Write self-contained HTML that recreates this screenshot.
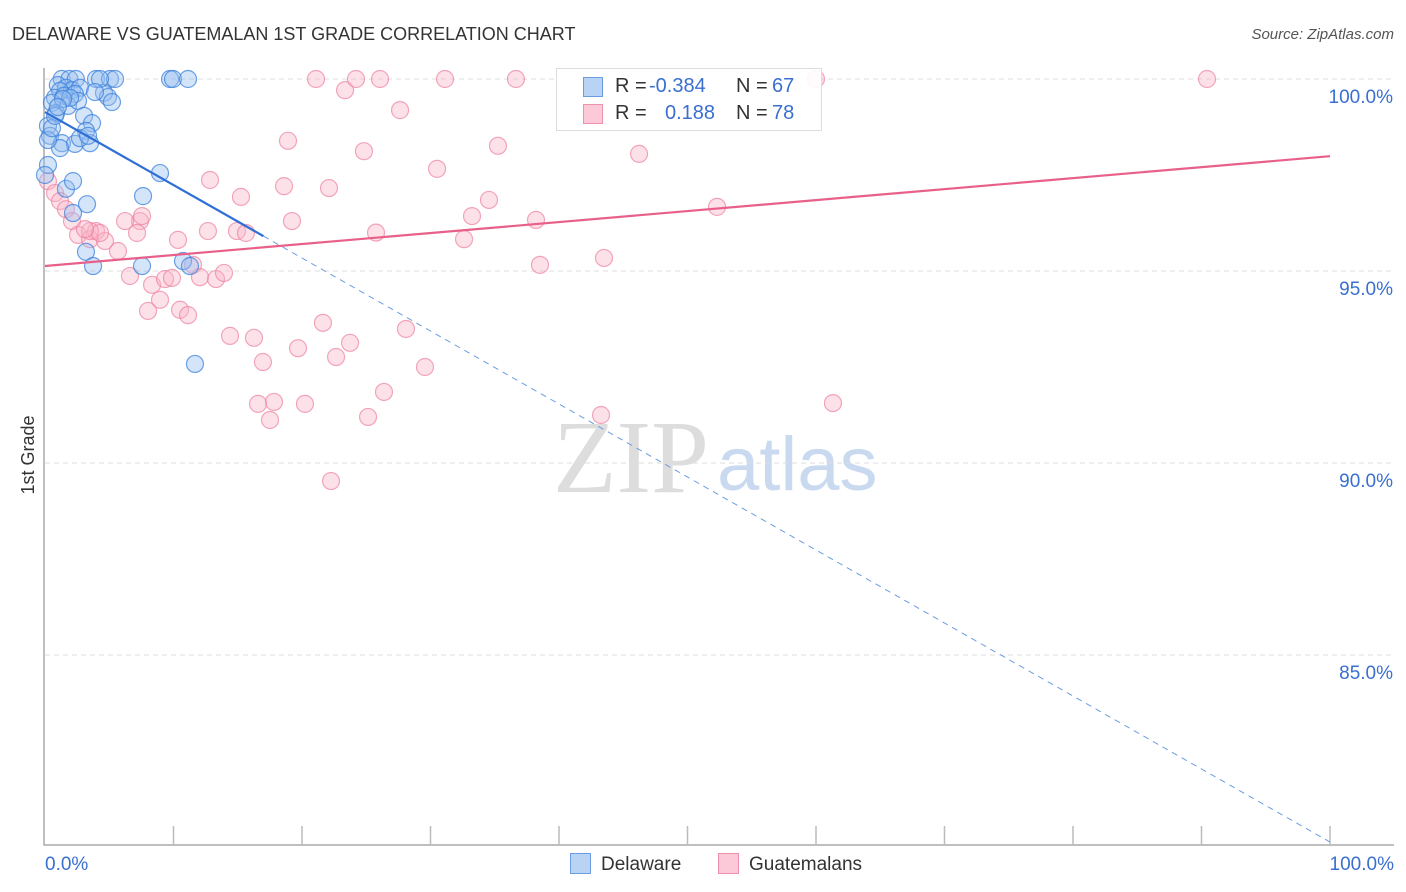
<!DOCTYPE html>
<html><head><meta charset="utf-8">
<style>
body{margin:0;background:#fff;font-family:"Liberation Sans",sans-serif;}
#wrap{position:relative;width:1406px;height:892px;overflow:hidden;}
</style></head>
<body>
<div id="wrap">
<svg id="chart" width="1406" height="892">
  <text x="12" y="40" font-size="18" fill="#333">DELAWARE VS GUATEMALAN 1ST GRADE CORRELATION CHART</text>
  <text x="1394" y="39" font-size="15" fill="#555" font-style="italic" text-anchor="end">Source: ZipAtlas.com</text>
  <text x="34" y="455" font-size="18" fill="#333" transform="rotate(-90 34 455)" text-anchor="middle">1st Grade</text>
  <text x="553" y="492" font-size="104" fill="#ddd" font-family="Liberation Serif,serif">ZIP</text>
  <text x="717" y="490" font-size="76" fill="#c9daf0">atlas</text>
  <g id="grid"></g><g id="axes"></g><g id="pts"></g><g id="trends"></g>
</svg>
<div style="position:absolute;left:556px;top:68px;width:264px;height:61px;border:1px solid #ddd;background:rgba(255,255,255,0.9);font-size:20px;color:#333;">
  <div style="position:absolute;left:26px;top:6px;width:240px;height:24px;">
    <span style="position:absolute;left:0;top:2px;width:20px;height:20px;background:#b9d3f5;border:1px solid #6b9de0;box-sizing:border-box;"></span>
    <span style="position:absolute;left:32px;">R = </span><span style="position:absolute;left:66px;color:#3a6fd0;">-0.384</span>
    <span style="position:absolute;left:153px;">N = </span><span style="position:absolute;left:189px;color:#3a6fd0;">67</span>
  </div>
  <div style="position:absolute;left:26px;top:33px;width:240px;height:24px;">
    <span style="position:absolute;left:0;top:2px;width:20px;height:20px;background:#fbc9d7;border:1px solid #ee8fab;box-sizing:border-box;"></span>
    <span style="position:absolute;left:32px;">R = </span><span style="position:absolute;left:82px;color:#3a6fd0;">0.188</span>
    <span style="position:absolute;left:153px;">N = </span><span style="position:absolute;left:189px;color:#3a6fd0;">78</span>
  </div>
</div>
<div style="position:absolute;left:570px;top:853px;font-size:19px;color:#333;">
  <span style="position:absolute;left:0;top:0;white-space:nowrap;"><span style="display:inline-block;width:21px;height:21px;background:#b9d3f5;border:1px solid #6b9de0;box-sizing:border-box;vertical-align:-4px;margin-right:10px;"></span>Delaware</span>
  <span style="position:absolute;left:148px;top:0;white-space:nowrap;"><span style="display:inline-block;width:21px;height:21px;background:#fbc9d7;border:1px solid #ee8fab;box-sizing:border-box;vertical-align:-4px;margin-right:10px;"></span>Guatemalans</span>
</div>
</div>
<script>
const yTicks=[100,95,90,85];
const yTickLabels=["100.0%","95.0%","90.0%","85.0%"];
const xEndLabels=["0.0%","100.0%"];
const blueX=[1.3,1.9,2.4,3.97,5.06,5.45,9.73,9.96,11.13,1.0,1.63,2.1,2.72,1.17,0.78,1.48,2.33,4.59,4.9,0.54,1.79,2.57,0.86,3.04,3.66,3.19,0.23,0.39,1.32,2.33,3.5,2.72,3.35,1.17,0.23,0.54,8.95,7.63,1.63,2.18,3.27,2.18,3.19,3.74,7.55,10.74,11.28,11.67,0.23,0.0,0.78,1.95,4.28,1.4,1.0,3.89,5.21];
const blueY=[100,100,100,100,100,100,100,100,100,99.84,99.77,99.71,99.77,99.69,99.51,99.56,99.61,99.64,99.53,99.38,99.3,99.43,99.11,99.04,98.85,98.65,98.78,98.52,98.33,98.31,98.33,98.46,98.52,98.2,98.41,98.72,97.55,96.95,97.14,97.34,96.74,96.51,95.5,95.13,95.13,95.26,95.13,92.58,97.76,97.5,99.04,99.51,100,99.48,99.27,99.66,99.4];
const pinkX=[0.23,0.78,1.17,1.63,2.1,2.57,3.5,3.97,4.67,5.68,6.61,7.39,6.23,7.55,7.16,8.02,8.33,8.95,9.34,9.88,10.35,10.51,11.13,11.52,12.06,12.68,13.31,13.93,12.84,14.4,14.94,15.25,15.64,16.26,16.96,16.58,17.51,17.82,18.6,19.22,18.91,19.69,20.23,21.09,21.63,22.26,22.1,22.65,23.35,23.74,24.2,24.82,25.14,25.76,26.07,26.38,27.63,28.09,29.57,30.51,31.13,32.61,33.23,34.55,35.25,36.65,38.21,38.52,43.27,43.5,46.23,52.3,60.0,61.32,90.43,3.5,4.28,3.11];
const pinkY=[97.34,97.03,96.82,96.61,96.3,95.94,95.83,96.04,95.78,95.52,94.87,96.3,96.3,96.43,95.99,93.96,94.64,94.25,94.79,94.82,95.81,93.99,93.85,95.16,94.84,96.04,94.79,94.95,97.37,93.31,96.04,96.93,95.99,93.26,92.63,91.54,91.12,91.59,97.21,96.3,98.39,92.99,91.54,100,93.65,89.53,97.16,92.76,99.71,93.13,100,98.12,91.2,96.0,100,91.85,99.19,93.49,92.5,97.66,100,95.83,96.43,96.85,98.26,100,96.33,95.16,91.25,95.34,98.05,96.67,100,91.56,100,96.04,95.99,96.09];
const blueTrend=[99.14,80.13];
const pinkTrend=[95.13,97.99];
const X0=45,X1=1330,Y100=79,PX=38.4;
const sx=v=>X0+(X1-X0)*v/100;
const sy=v=>Y100+(100-v)*PX;
const NS="http://www.w3.org/2000/svg";
function mk(tag,attrs,parent){const e=document.createElementNS(NS,tag);for(const k in attrs)e.setAttribute(k,attrs[k]);document.getElementById(parent).appendChild(e);return e;}
yTicks.forEach((t,i)=>{
  const l=mk('line',{x1:45,x2:1394,y1:sy(t),y2:sy(t),stroke:'#ddd','stroke-dasharray':'5,4'},'grid');
  
  
  const tx=mk('text',{x:1393,y:sy(t)+24,'font-size':19,fill:'#3a6fd0','text-anchor':'end'},'grid');
  tx.textContent=yTickLabels[i];
  
  
});
const ax=mk('path',{d:'M44 68V845H1394',stroke:'#aaa',fill:'none','stroke-width':1.5},'axes');


for(let i=1;i<=10;i++){
  const t=mk('line',{x1:sx(i*10),x2:sx(i*10),y1:826,y2:845,stroke:'#bbb','stroke-width':1.5},'axes');
  
  
}
[[0,'start',45],[100,'end',1394]].forEach((d,i)=>{
  const tx=mk('text',{x:d[2],y:870,'font-size':19,fill:'#3a6fd0','text-anchor':d[1]},'axes');
  tx.textContent=xEndLabels[i];
  
  
});
pinkX.forEach((x,i)=>{
  const c=mk('circle',{cx:sx(x),cy:sy(pinkY[i]),r:8.5,fill:'rgba(249,180,200,0.4)',stroke:'rgba(236,130,160,0.7)','stroke-width':1.2},'pts');
  
  
});
blueX.forEach((x,i)=>{
  const c=mk('circle',{cx:sx(x),cy:sy(blueY[i]),r:8.5,fill:'rgba(150,190,240,0.4)',stroke:'rgba(60,130,220,0.75)','stroke-width':1.2},'pts');
  
  
});
const bAt=x=>blueTrend[0]+(blueTrend[1]-blueTrend[0])*x/100;
const b1=mk('line',{x1:sx(0),y1:sy(bAt(0)),x2:sx(17),y2:sy(bAt(17)),stroke:'#2f6fd6','stroke-width':2.2},'trends');


const b2=mk('line',{x1:sx(17),y1:sy(bAt(17)),x2:sx(100),y2:sy(bAt(100)),stroke:'#6b9de0','stroke-width':1,'stroke-dasharray':'6,5'},'trends');


const p1=mk('line',{x1:sx(0),y1:sy(pinkTrend[0]),x2:sx(100),y2:sy(pinkTrend[1]),stroke:'#e8608a','stroke-width':2.2},'trends');


</script>
</body></html>
